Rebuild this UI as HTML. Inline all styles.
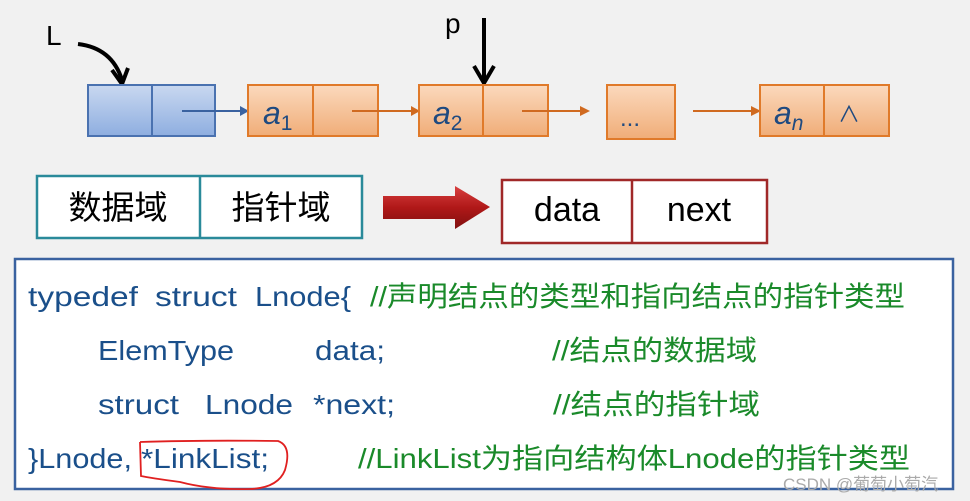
<!DOCTYPE html>
<html><head><meta charset="utf-8"><style>
html,body{margin:0;padding:0;background:#f1f1f1;}
svg{display:block;}
text{font-family:"Liberation Sans","Noto Sans CJK SC",sans-serif;}
</style></head><body>
<svg width="970" height="501" viewBox="0 0 970 501" xmlns="http://www.w3.org/2000/svg">
<defs>
<linearGradient id="bl" x1="0" y1="0" x2="0" y2="1"><stop offset="0" stop-color="#c9d8f0"/><stop offset="1" stop-color="#8eaee0"/></linearGradient>
<linearGradient id="or" x1="0" y1="0" x2="0" y2="1"><stop offset="0" stop-color="#fbd9bd"/><stop offset="1" stop-color="#f0ad78"/></linearGradient>
<linearGradient id="rd" x1="0" y1="0" x2="0" y2="1"><stop offset="0" stop-color="#d84040"/><stop offset="0.5" stop-color="#b01818"/><stop offset="1" stop-color="#801010"/></linearGradient>
</defs>
<rect width="970" height="501" fill="#f1f1f1"/>
<text x="46" y="45" font-size="28">L</text>
<path d="M78 44 Q112 48 122 80" fill="none" stroke="#000" stroke-width="4"/>
<path d="M112 70 L122 84 L128 68" fill="none" stroke="#000" stroke-width="4"/>
<text x="445" y="33" font-size="28">p</text>
<line x1="484" y1="18" x2="484" y2="80" stroke="#000" stroke-width="4"/>
<path d="M474 66 L484 83 L494 66" fill="none" stroke="#000" stroke-width="4"/>
<rect x="88" y="85" width="127" height="51" fill="url(#bl)" stroke="#4a72b0" stroke-width="2"/>
<line x1="152" y1="85" x2="152" y2="136" stroke="#4a72b0" stroke-width="2"/>
<line x1="182" y1="111" x2="242" y2="111" stroke="#3a62a0" stroke-width="2"/>
<path d="M240 106 L249 111 L240 116Z" fill="#3a62a0"/>
<rect x="248" y="85" width="130" height="51" fill="url(#or)" stroke="#e07a2a" stroke-width="2"/>
<line x1="313" y1="85" x2="313" y2="136" stroke="#e07a2a" stroke-width="2"/>
<text x="263" y="124" font-size="32" font-style="italic" fill="#1f4a80">a<tspan font-size="21" font-style="normal" dy="6">1</tspan></text>
<line x1="352" y1="111" x2="413" y2="111" stroke="#d06a20" stroke-width="2"/>
<path d="M411 106 L420 111 L411 116Z" fill="#d06a20"/>
<rect x="419" y="85" width="129" height="51" fill="url(#or)" stroke="#e07a2a" stroke-width="2"/>
<line x1="483" y1="85" x2="483" y2="136" stroke="#e07a2a" stroke-width="2"/>
<text x="433" y="124" font-size="32" font-style="italic" fill="#1f4a80">a<tspan font-size="21" font-style="normal" dy="6">2</tspan></text>
<line x1="522" y1="111" x2="582" y2="111" stroke="#d06a20" stroke-width="2"/>
<path d="M580 106 L590 111 L580 116Z" fill="#d06a20"/>
<rect x="607" y="85" width="68" height="54" fill="url(#or)" stroke="#e07a2a" stroke-width="2"/>
<text x="620" y="126" font-size="24" fill="#1f4a80">...</text>
<line x1="693" y1="111" x2="753" y2="111" stroke="#d06a20" stroke-width="2"/>
<path d="M751 106 L761 111 L751 116Z" fill="#d06a20"/>
<rect x="760" y="85" width="129" height="51" fill="url(#or)" stroke="#e07a2a" stroke-width="2"/>
<line x1="824" y1="85" x2="824" y2="136" stroke="#e07a2a" stroke-width="2"/>
<text x="774" y="124" font-size="32" font-style="italic" fill="#1f4a80">a<tspan font-size="21" dy="6">n</tspan></text>
<text x="838" y="122" font-size="22" fill="#1f4a80">∧</text>
<rect x="37" y="176" width="325" height="62" fill="#fff" stroke="#2a8a9a" stroke-width="2.5"/>
<line x1="200" y1="176" x2="200" y2="238" stroke="#2a8a9a" stroke-width="2.5"/>
<text x="118" y="219" font-size="33" text-anchor="middle">数据域</text>
<text x="281" y="219" font-size="33" text-anchor="middle">指针域</text>
<path d="M383 196 L455 196 L455 186 L490 207 L455 229 L455 219 L383 219Z" fill="url(#rd)"/>
<rect x="502" y="180" width="265" height="63" fill="#fff" stroke="#a02828" stroke-width="2.5"/>
<line x1="632" y1="180" x2="632" y2="243" stroke="#a02828" stroke-width="2.5"/>
<text x="567" y="221" font-size="34" text-anchor="middle">data</text>
<text x="699" y="221" font-size="34" text-anchor="middle">next</text>
<rect x="15" y="259" width="938" height="230" fill="#fff" stroke="#3a62a0" stroke-width="2.5"/>
<g font-size="28" fill="#1a4f8a">
<text x="28" y="306" textLength="110" lengthAdjust="spacingAndGlyphs">typedef</text>
<text x="155" y="306" textLength="82" lengthAdjust="spacingAndGlyphs">struct</text>
<text x="255" y="306" textLength="96" lengthAdjust="spacingAndGlyphs">Lnode{</text>
<text x="98" y="360" textLength="136" lengthAdjust="spacingAndGlyphs">ElemType</text>
<text x="315" y="360" textLength="70" lengthAdjust="spacingAndGlyphs">data;</text>
<text x="98" y="414" textLength="81" lengthAdjust="spacingAndGlyphs">struct</text>
<text x="205" y="414" textLength="88" lengthAdjust="spacingAndGlyphs">Lnode</text>
<text x="313" y="414" textLength="82" lengthAdjust="spacingAndGlyphs">*next;</text>
<text x="28" y="468" textLength="104" lengthAdjust="spacingAndGlyphs">}Lnode,</text>
<text x="141" y="468" textLength="128" lengthAdjust="spacingAndGlyphs">*LinkList;</text>
</g>
<g font-size="28" fill="#1a8a2a">
<text x="370" y="306" textLength="535" lengthAdjust="spacingAndGlyphs">//声明结点的类型和指向结点的指针类型</text>
<text x="552" y="360" textLength="205" lengthAdjust="spacingAndGlyphs">//结点的数据域</text>
<text x="553" y="414" textLength="207" lengthAdjust="spacingAndGlyphs">//结点的指针域</text>
<text x="358" y="468" textLength="552" lengthAdjust="spacingAndGlyphs">//LinkList为指向结构体Lnode的指针类型</text>
</g>
<path d="M140 442 Q200 440 278 441 Q292 446 285 470 Q278 488 250 489 Q210 490 180 482 Q150 478 141 476 L140 442" fill="none" stroke="#e02020" stroke-width="1.8"/>
<text x="783" y="490" font-size="17" fill="#aaa">CSDN @葡萄小萄汽</text>
</svg>
</body></html>
